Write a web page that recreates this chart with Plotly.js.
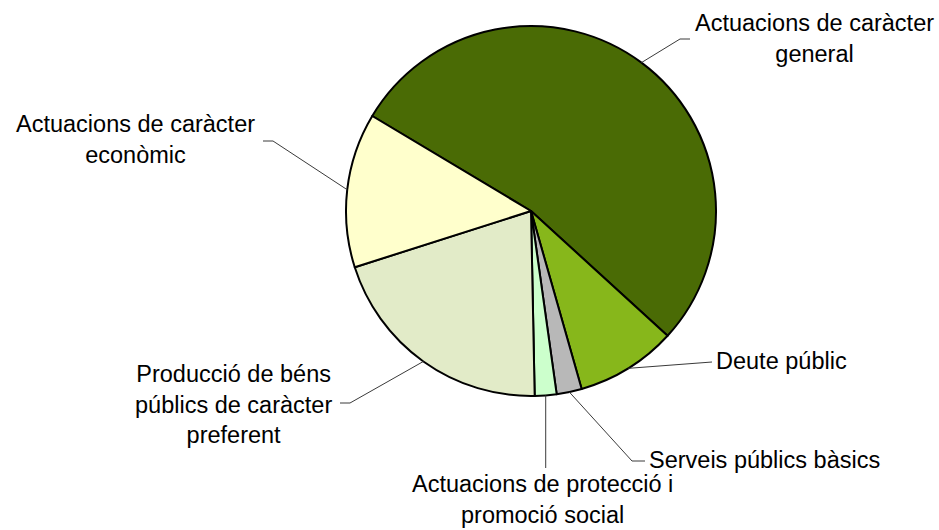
<!DOCTYPE html>
<html>
<head>
<meta charset="utf-8">
<script src="https://cdn.plot.ly/plotly-3.0.1.min.js"></script>
<style>html,body{margin:0;padding:0;background:#fff;}#chart{width:939px;height:530px;}</style>
</head>
<body>
<div id="chart"></div>
<script>
// ---- data ----
const categories = [
  'Actuacions de caràcter general',
  'Deute públic',
  'Serveis públics bàsics',
  'Actuacions de protecció i promoció social',
  'Producció de béns públics de caràcter preferent',
  'Actuacions de caràcter econòmic'
];
const shares = [53.2, 8.8, 2.2, 1.9, 20.4, 13.5];
const labelTexts = [
  'Actuacions de caràcter<br>general',
  'Deute públic',
  'Serveis públics bàsics',
  'Actuacions de protecció i<br>promoció social',
  'Producció de béns<br>públics de caràcter<br>preferent',
  'Actuacions de caràcter<br>econòmic'
];
const colors = ['#4a6b05', '#87b71b', '#b8b8b8', '#ccffcc', '#e2ebc8', '#ffffcc'];

// ---- layout (pixels) ----
const W = 939, H = 530;
const cx = 531, cy = 211, R = 185;
const rotation = -59.1;
// per label: elbow/end points of leader lines and text anchor
const leaders = [
  {pts: [[680, 39], [690, 39]], tx: 814, ty: 39, xa: 'center'},
  {pts: [[712, 362]], tx: 714, ty: 361, xa: 'left'},
  {pts: [[632, 461], [645, 461]], tx: 647, ty: 460, xa: 'left'},
  {pts: [[null, 468]], tx: 542, ty: 499, xa: 'center'},
  {pts: [[350, 403], [340, 403]], tx: 233, ty: 404, xa: 'center'},
  {pts: [[273, 141], [263, 141]], tx: 135, ty: 140, xa: 'center'}
];

const px = x => x / W;
const py = y => 1 - y / H;

const total = shares.reduce((a, b) => a + b, 0);
let acc = rotation;
const shapes = [];
const annotations = [];
shares.forEach((v, i) => {
  const span = v / total * 360;
  const mid = (acc + span / 2) * Math.PI / 180;
  acc += span;
  const sx = cx + R * Math.sin(mid);
  const sy = cy - R * Math.cos(mid);
  const L = leaders[i];
  let path = 'M' + px(sx) + ',' + py(sy);
  L.pts.forEach(p => {
    const x = p[0] === null ? sx : p[0];
    path += ' L' + px(x) + ',' + py(p[1]);
  });
  shapes.push({type: 'path', xref: 'paper', yref: 'paper', path: path,
    line: {color: '#3a3a3a', width: 1}});
  annotations.push({xref: 'paper', yref: 'paper', x: px(L.tx), y: py(L.ty),
    xanchor: L.xa, yanchor: 'middle', text: labelTexts[i], showarrow: false,
    align: 'center', font: {family: 'Liberation Sans, Arial, sans-serif', size: 23.5, color: '#000'}});
});

const trace = {
  type: 'pie',
  labels: categories,
  values: shares,
  sort: false,
  direction: 'clockwise',
  rotation: rotation,
  textinfo: 'none',
  hoverinfo: 'label+percent',
  marker: {colors: colors, line: {color: '#000', width: 2}},
  domain: {x: [px(cx - R), px(cx + R)], y: [py(cy + R), py(cy - R)]}
};

const layout = {
  width: W, height: H,
  margin: {l: 0, r: 0, t: 0, b: 0},
  paper_bgcolor: '#fff',
  showlegend: false,
  shapes: shapes,
  annotations: annotations
};

Plotly.newPlot('chart', [trace], layout, {displayModeBar: false, staticPlot: true});
</script>
</body>
</html>
